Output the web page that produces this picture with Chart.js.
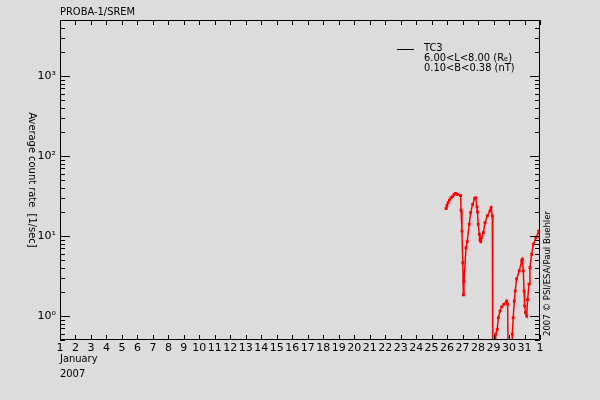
<!DOCTYPE html>
<html>
<head>
<meta charset="utf-8">
<script src="https://cdn.jsdelivr.net/npm/chart.js@4/dist/chart.umd.min.js"></script>
<style>
  html, body { margin: 0; padding: 0; background: #dcdcdc; }
  #wrap { width: 600px; height: 400px; }
</style>
</head>
<body>
<div id="wrap"><canvas id="c" width="600" height="400"></canvas></div>
<script>
// day of January 2007 (32 = 1 Feb)
const days = [25.93, 25.99, 26.06, 26.15, 26.25, 26.35, 26.45, 26.54, 26.67, 26.87,
  26.90, 26.96, 27.01, 27.05, 27.09, 27.22, 27.30, 27.43, 27.52, 27.65,
  27.78, 27.85, 27.93, 27.96, 28.01, 28.08, 28.12, 28.17, 28.22, 28.34,
  28.45, 28.60, 28.77, 28.84, 28.92, 28.95, 29.12, 29.14, 29.24, 29.31,
  29.42, 29.53, 29.67, 29.85, 29.91, 29.95, 30.19, 30.21, 30.27, 30.34,
  30.40, 30.49, 30.66, 30.82, 30.86, 30.92, 30.97, 31.01, 31.06, 31.14,
  31.20, 31.29, 31.35, 31.46, 31.57, 31.74, 31.92, 32.0];
// average count rate [1/sec], TC3
const rates = [22, 24, 26, 28, 30, 31, 33, 34, 33, 32,
  21, 11.5, 4.6, 1.83, 2.7, 7.1, 8.5, 14, 19.6, 24.8,
  29.5, 30, 23, 20, 14, 10.5, 9.0, 8.5, 9.5, 11,
  14.6, 17.8, 20.5, 22.6, 17.8, 0.2, 0.2, 0.59, 0.68, 0.95,
  1.15, 1.3, 1.4, 1.54, 1.4, 0.2, 0.2, 0.59, 0.95, 1.54,
  2.05, 2.9, 3.65, 4.9, 5.1, 3.65, 2.05, 1.33, 1.1, 1.0,
  1.6, 2.5, 4.0, 5.9, 7.9, 9.5, 11.5, 9.5];
const yMajor = [1, 10, 100, 1000];
const yLabels = ['10\u2070', '10\u00b9', '10\u00b2', '10\u00b3'];
const xTicks = [];
for (let d = 1; d <= 32; d++) xTicks.push(d);

const FONT = "'DejaVu Sans', sans-serif";
const NARROW = "'DejaVu Sans Condensed', 'Liberation Sans Narrow', 'DejaVu Sans', sans-serif";
const INK = '#000';

const frame = {
  id: 'frame',
  afterDraw(chart) {
    const { ctx, chartArea: a, scales } = chart;
    const x = scales.x, y = scales.y;
    ctx.save();
    ctx.strokeStyle = INK;
    ctx.lineWidth = 1;
    ctx.beginPath();
    ctx.rect(a.left + 0.5, a.top + 0.5, a.right - a.left - 1, a.bottom - a.top - 1);
    // x ticks top & bottom
    xTicks.forEach(d => {
      const px = Math.round(x.getPixelForValue(d)) + 0.5;
      ctx.moveTo(px, a.bottom); ctx.lineTo(px, a.bottom - 5);
      ctx.moveTo(px, a.top); ctx.lineTo(px, a.top + 5);
    });
    // y ticks left & right
    for (let e = -1; e <= 3; e++) {
      for (let m = 1; m <= 9; m++) {
        const v = m * Math.pow(10, e);
        if (v < 0.5 || v > 5000) continue;
        const py = Math.round(y.getPixelForValue(v)) + 0.5;
        const len = m === 1 ? 10 : 5;
        ctx.moveTo(a.left, py); ctx.lineTo(a.left + len, py);
        ctx.moveTo(a.right, py); ctx.lineTo(a.right - len, py);
      }
    }
    ctx.stroke();

    ctx.fillStyle = INK;
    ctx.font = '11px ' + NARROW;
    ctx.textBaseline = 'middle';
    ctx.textAlign = 'left';
    ctx.fillText('PROBA-1/SREM', 60, 12);
    ctx.fillText('January', 60, 359);
    ctx.fillText('2007', 60, 374);

    // legend
    ctx.beginPath();
    ctx.moveTo(397, 49.5); ctx.lineTo(414, 49.5);
    ctx.stroke();
    ctx.fillText('TC3', 424, 48);
    ctx.fillText('6.00<L<8.00 (R\u2091)', 424, 58);
    ctx.fillText('0.10<B<0.38 (nT)', 424, 68);

    // y title, reading top to bottom
    ctx.save();
    ctx.translate(32, 180);
    ctx.rotate(Math.PI / 2);
    ctx.textAlign = 'center';
    ctx.fillText('Average count rate  [1/sec]', 0, 0);
    ctx.restore();

    // credit, reading bottom to top
    ctx.save();
    ctx.font = '9.5px ' + NARROW;
    ctx.translate(548, 336);
    ctx.rotate(-Math.PI / 2);
    ctx.textAlign = 'left';
    ctx.fillText('2007 \u00a9 PSI/ESA/Paul Buehler', 0, 0);
    ctx.restore();
    ctx.restore();
  }
};

new Chart(document.getElementById('c'), {
  type: 'line',
  data: {
    datasets: [{
      data: days.map((d, i) => ({ x: d, y: rates[i] })),
      borderColor: '#ff0000',
      backgroundColor: '#ff0000',
      borderWidth: 1.5,
      pointStyle: 'rect',
      pointRadius: 2,
      pointBorderWidth: 0,
      tension: 0
    }]
  },
  options: {
    responsive: false,
    animation: false,
    layout: { padding: { top: 20, right: 60, left: 0, bottom: 0 } },
    plugins: { legend: { display: false }, tooltip: { enabled: false } },
    scales: {
      x: {
        type: 'linear', min: 1, max: 32,
        afterBuildTicks: s => { s.ticks = xTicks.map(v => ({ value: v })); },
        afterFit: s => { s.height = 60; },
        grid: { display: false, drawTicks: false },
        border: { display: false },
        ticks: {
          color: INK, font: { family: FONT, size: 11 }, padding: 2,
          autoSkip: false, maxRotation: 0,
          callback: v => (v === 32 ? '1' : String(v))
        }
      },
      y: {
        type: 'logarithmic', min: 0.5, max: 5000,
        afterBuildTicks: s => { s.ticks = yMajor.map(v => ({ value: v })); },
        afterFit: s => { s.width = 60; },
        grid: { display: false, drawTicks: false },
        border: { display: false },
        ticks: {
          color: INK, font: { family: FONT, size: 11 }, padding: 4,
          callback: v => yLabels[yMajor.indexOf(v)]
        }
      }
    }
  },
  plugins: [frame]
});
</script>
</body>
</html>
